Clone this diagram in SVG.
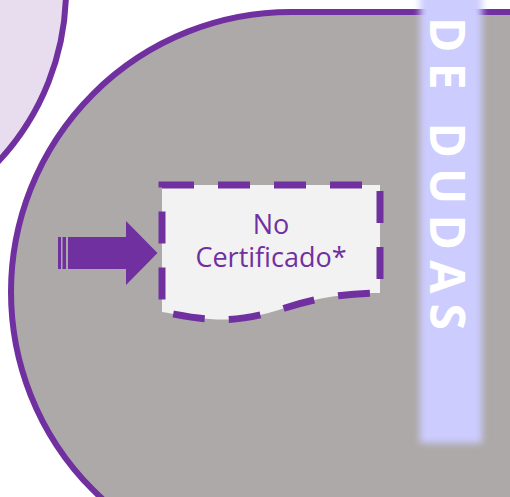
<svg xmlns="http://www.w3.org/2000/svg" width="510" height="497" viewBox="0 0 510 497">
<defs>
<style>
.outline{stroke:#7030A0;stroke-width:6}
.lbl{font-family:"Open Sans","Noto Sans",sans-serif;font-size:27px;fill:#7030A0;text-anchor:middle}
.band{font-family:"Open Sans","Noto Sans",sans-serif;font-weight:bold;font-size:48px;fill:#FFFFFF}
</style>
<filter id="blur" x="-30%" y="-10%" width="160%" height="120%">
<feGaussianBlur stdDeviation="3.5"/>
</filter>
</defs>
<rect width="510" height="497" fill="#FFFFFF"/>
<g id="circle-node">
<circle cx="-185" cy="-10" r="251" fill="#E8DCEF" class="outline"/>
</g>
<g id="area-node">
<rect x="11" y="12" width="900" height="560" rx="280" ry="280" fill="#ADA9A8" class="outline"/>
</g>
<g id="band-node">
<rect x="420" y="-30" width="62" height="473" fill="#CCCCFF" filter="url(#blur)"/>
<text class="band" transform="translate(430,17) rotate(90)" textLength="313" lengthAdjust="spacing">DE DUDAS</text>
</g>
<g id="connectors">
<rect x="58" y="237" width="3" height="32" fill="#7030A0"/>
<rect x="62.5" y="237" width="3.5" height="32" fill="#7030A0"/>
<polygon points="68,237 126,237 126,221 157.5,253 126,285 126,269 68,269" fill="#7030A0"/>
</g>
<g id="doc-node">
<path d="M162,185 L380,185 L380,293 C340,293 310,300 285,308 C255,318 230,321 210,319 C190,318 175,314 162,312 Z" fill="#F2F2F2" stroke="#7030A0" stroke-width="7" stroke-dasharray="32 24"/>
<text class="lbl" x="271" y="234">No</text>
<text class="lbl" x="271" y="267">Certificado*</text>
</g>
</svg>
